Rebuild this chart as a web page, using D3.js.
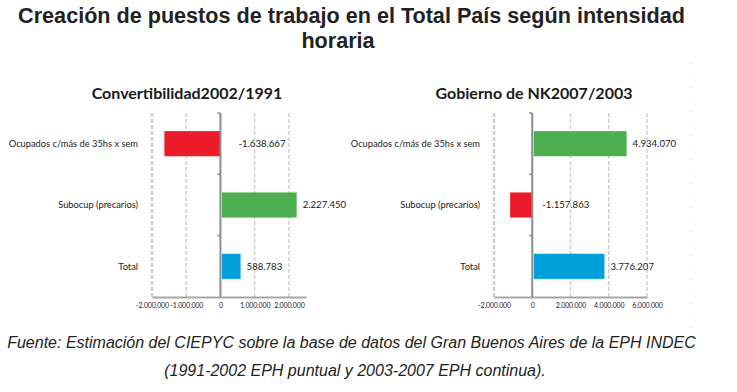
<!DOCTYPE html>
<html>
<head>
<meta charset="utf-8">
<script src="https://cdn.jsdelivr.net/npm/d3@7/dist/d3.min.js"></script>
<style>
  html, body { margin: 0; padding: 0; background: #fff; }
  svg { display: block; }
</style>
</head>
<body>
<svg id="chart" width="737" height="392"></svg>
<script>
// ---- Data ----
const mainTitle = ["Creación de puestos de trabajo en el Total País según intensidad", "horaria"];
const footnote = ["Fuente: Estimación del CIEPYC sobre la base de datos del Gran Buenos Aires de la EPH INDEC", "(1991-2002 EPH puntual y 2003-2007 EPH continua)."];
const categories = ["Ocupados c/más de 35hs x sem", "Subocup (precarios)", "Total"];
const convTitle = "Convertibilidad2002/1991";
const convValues = [-1638667, 2227450, 588783];
const convTicks = [-2000000, -1000000, 0, 1000000, 2000000];
const nkTitle = "Gobierno de NK2007/2003";
const nkValues = [4934070, -1157863, 3776207];
const nkTicks = [-2000000, 0, 2000000, 4000000, 6000000];

// ---- Setup ----
const svg = d3.select("#chart");
const locale = d3.formatLocale({decimal: ",", thousands: ".", grouping: [3], currency: ["$", ""], minus: "-"});
const fmt = locale.format(",d");
const colors = {neg: "#ec1c2a", pos: "#4caf50", total: "#00a0db"};
const chartFont = "Lato, 'Open Sans', sans-serif";
const docFont = "'Liberation Sans', Arial, sans-serif";

// Main title
svg.append("text").attr("x", 351.5).attr("y", 22.5).attr("text-anchor", "middle")
  .style("font-family", docFont).style("font-weight", "bold")
  .style("font-size", "21.6px").attr("fill", "#222").text(mainTitle[0]);
svg.append("text").attr("x", 338).attr("y", 47.5).attr("text-anchor", "middle")
  .style("font-family", docFont).style("font-weight", "bold")
  .style("font-size", "21.6px").attr("fill", "#222").text(mainTitle[1]);

// Footnote
svg.append("text").attr("x", 351.5).attr("y", 348).attr("text-anchor", "middle")
  .style("font-family", docFont).style("font-style", "italic")
  .style("font-size", "16px").attr("fill", "#222").text(footnote[0]);
svg.append("text").attr("x", 355).attr("y", 376).attr("text-anchor", "middle")
  .style("font-family", docFont).style("font-style", "italic")
  .style("font-size", "16px").attr("fill", "#222").text(footnote[1]);

// faint dotted page border
svg.append("line").attr("x1", 691).attr("x2", 691).attr("y1", 62).attr("y2", 330)
  .attr("stroke", "#e2e2e2").attr("stroke-width", 1.5).attr("stroke-dasharray", "1.5,10.5");

const panels = [
  {title: convTitle, values: convValues, ticks: convTicks, domain: [-2000000, 2500000],
   xRange: [152, 306], titleX: 187, labelX: 138, negOffset: 18},
  {title: nkTitle, values: nkValues, ticks: nkTicks, domain: [-2000000, 6000000],
   xRange: [494, 647], titleX: 534, labelX: 480, negOffset: 10}
];

const yTop = 113, yBottom = 297;

panels.forEach(p => {
  const g = svg.append("g");
  const x = d3.scaleLinear().domain(p.domain).range(p.xRange);
  const y = d3.scaleBand().domain(categories).range([yTop, yBottom]).paddingInner(0.59).paddingOuter(0.295);

  // Subtitle
  g.append("text").attr("x", p.titleX).attr("y", 99).attr("text-anchor", "middle")
    .style("font-family", chartFont).style("font-weight", "bold").style("font-size", "16px")
    .attr("fill", "#1a1a1a").text(p.title);

  // gridlines
  g.selectAll(".grid").data(p.ticks.filter(t => t !== 0)).enter().append("line")
    .attr("x1", d => x(d)).attr("x2", d => x(d)).attr("y1", yTop).attr("y2", yBottom)
    .attr("stroke", "#cfcfcf").attr("stroke-width", (d, i) => i === 0 ? 2.5 : 1.5)
    .attr("stroke-dasharray", "4,2");

  // bars
  g.selectAll(".bar").data(p.values).enter().append("rect")
    .attr("x", d => Math.min(x(0), x(d)) + (d > 0 ? 1.5 : 0))
    .attr("width", d => Math.abs(x(d) - x(0)) - (d > 0 ? 1.5 : 0))
    .attr("y", (d, i) => y(categories[i]))
    .attr("height", y.bandwidth())
    .attr("fill", (d, i) => categories[i] === "Total" ? colors.total : (d < 0 ? colors.neg : colors.pos));

  // bottom axis
  const ax = g.append("g").attr("transform", `translate(0,${yBottom})`)
    .call(d3.axisBottom(x).tickValues(p.ticks).tickFormat(fmt).tickSize(0).tickPadding(6));
  ax.select(".domain").attr("stroke", "#a6a6a6").attr("stroke-width", 2);
  ax.selectAll("text").style("font-family", chartFont).style("font-size", "7px")
    .style("letter-spacing", "-0.15px").attr("fill", "#222");

  // zero axis with category ticks
  g.append("line").attr("x1", x(0)).attr("x2", x(0)).attr("y1", yTop).attr("y2", yBottom)
    .attr("stroke", "#8c8c8c").attr("stroke-width", 2);
  const boundaries = [yTop].concat(categories.slice(1).map(c => y(c) - y.step() * y.paddingInner() / 2));
  g.selectAll(".ytick").data(boundaries).enter().append("line")
    .attr("x1", x(0) - 3).attr("x2", x(0)).attr("y1", d => d).attr("y2", d => d)
    .attr("stroke", "#8c8c8c").attr("stroke-width", 1.5);

  // category labels
  g.selectAll(".cat").data(categories).enter().append("text")
    .attr("x", p.labelX).attr("y", d => y(d) + y.bandwidth() / 2).attr("dy", "0.35em")
    .attr("text-anchor", "end").style("font-family", chartFont).style("font-size", "9.3px")
    .attr("fill", "#1a1a1a").text(d => d);

  // value labels
  g.selectAll(".val").data(p.values).enter().append("text")
    .attr("x", d => d < 0 ? x(0) + p.negOffset : x(d) + 6)
    .attr("y", (d, i) => y(categories[i]) + y.bandwidth() / 2).attr("dy", "0.35em")
    .style("font-family", chartFont).style("font-size", "9.6px").attr("fill", "#1a1a1a")
    .text(d => fmt(d));
});
</script>
</body>
</html>
